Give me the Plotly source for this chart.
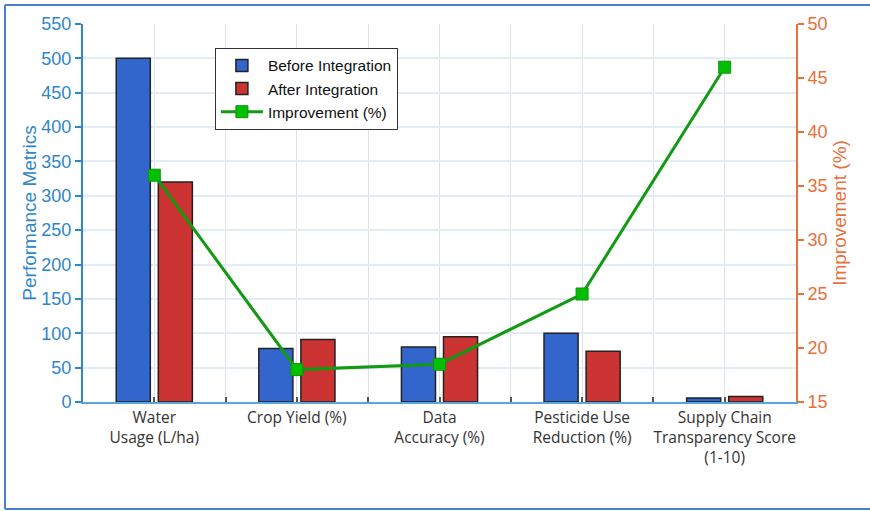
import plotly.graph_objects as go

# Metric categories and values
categories = [
    "Water<br>Usage (L/ha)",
    "Crop Yield (%)",
    "Data<br>Accuracy (%)",
    "Pesticide Use<br>Reduction (%)",
    "Supply Chain<br>Transparency Score<br>(1-10)",
]
before_integration = [500, 78, 80, 100, 6]
after_integration = [320, 91, 95, 74, 8]
improvement_pct = [36, 18, 18.5, 25, 46]

positions = list(range(len(categories)))

LEFT_BLUE = "#2f86c8"
RIGHT_ORANGE = "#e8703a"
FRAME_BLUE = "#4a7fd0"

fig = go.Figure()

fig.add_trace(go.Bar(
    x=positions, y=before_integration, name="Before Integration",
    marker=dict(color="#3366cc", line=dict(color="#222222", width=1.5)),
))
fig.add_trace(go.Bar(
    x=positions, y=after_integration, name="After Integration",
    marker=dict(color="#cc3333", line=dict(color="#222222", width=1.5)),
))
fig.add_trace(go.Scatter(
    x=positions, y=improvement_pct, name="Improvement (%)", yaxis="y2",
    mode="lines+markers",
    line=dict(color="#129a12", width=3),
    marker=dict(symbol="square", size=12, color="#00c000",
                line=dict(color="#109010", width=1)),
))

# Open frame around the figure (left, top and bottom edges)
px_x = lambda p: (p - 83) / 713
px_y = lambda p: (402 - p) / 378
frame = [
    dict(type="line", x0=px_x(5), x1=px_x(900), y0=px_y(5), y1=px_y(5)),
    dict(type="line", x0=px_x(5), x1=px_x(900), y0=px_y(509), y1=px_y(509)),
    dict(type="line", x0=px_x(5), x1=px_x(5), y0=px_y(5), y1=px_y(509)),
]
for s in frame:
    s.update(xref="paper", yref="paper", line=dict(color=FRAME_BLUE, width=2), layer="below")

fig.update_layout(
    width=870, height=511,
    margin=dict(l=83, r=74, t=24, b=109),
    paper_bgcolor="white", plot_bgcolor="white",
    barmode="group", bargap=0.41, bargroupgap=0.19,
    font=dict(family="Liberation Sans, Arial, sans-serif"),
    showlegend=True,
    legend=dict(
        x=0.185, y=0.937, xanchor="left", yanchor="top",
        bgcolor="white", bordercolor="#333333", borderwidth=1,
        font=dict(size=15.5, color="#111111"),
        tracegroupgap=0, itemwidth=42,
    ),
    xaxis=dict(
        range=[-0.5, 4.5],
        tickmode="array", tickvals=positions, ticktext=categories,
        tickfont=dict(family="Open Sans, Noto Sans, sans-serif", size=15.5, color="#333333"),
        ticks="inside", ticklen=5, tickcolor="#555555", tickwidth=1.5,
        showgrid=True, gridcolor="#dde2e8", gridwidth=1,
        minor=dict(dtick=0.5, tick0=-0.5, ticks="inside", ticklen=5,
                   tickcolor="#555555", tickwidth=1.5,
                   showgrid=True, gridcolor="#dde2e8", gridwidth=1),
        showline=True, linecolor="#5aa5dc", linewidth=2,
        zeroline=False,
    ),
    yaxis=dict(
        range=[0, 550], dtick=50,
        title=dict(text="Performance Metrics", font=dict(size=19, color=LEFT_BLUE), standoff=0),
        tickfont=dict(size=18, color=LEFT_BLUE),
        ticks="outside", ticklen=6, tickcolor=LEFT_BLUE, tickwidth=1.5,
        showline=True, linecolor=LEFT_BLUE, linewidth=2,
        showgrid=True, gridcolor="#e1ecf5", gridwidth=1.5,
        zeroline=False,
    ),
    yaxis2=dict(
        range=[15, 50], dtick=5, overlaying="y", side="right",
        title=dict(text="Improvement (%)", font=dict(size=19, color=RIGHT_ORANGE), standoff=6),
        tickfont=dict(size=18, color=RIGHT_ORANGE),
        ticks="outside", ticklen=6, tickcolor=RIGHT_ORANGE, tickwidth=1.5,
        showline=True, linecolor=RIGHT_ORANGE, linewidth=2,
        showgrid=False, zeroline=False,
    ),
    shapes=frame,
)

fig.write_html("out.html")
